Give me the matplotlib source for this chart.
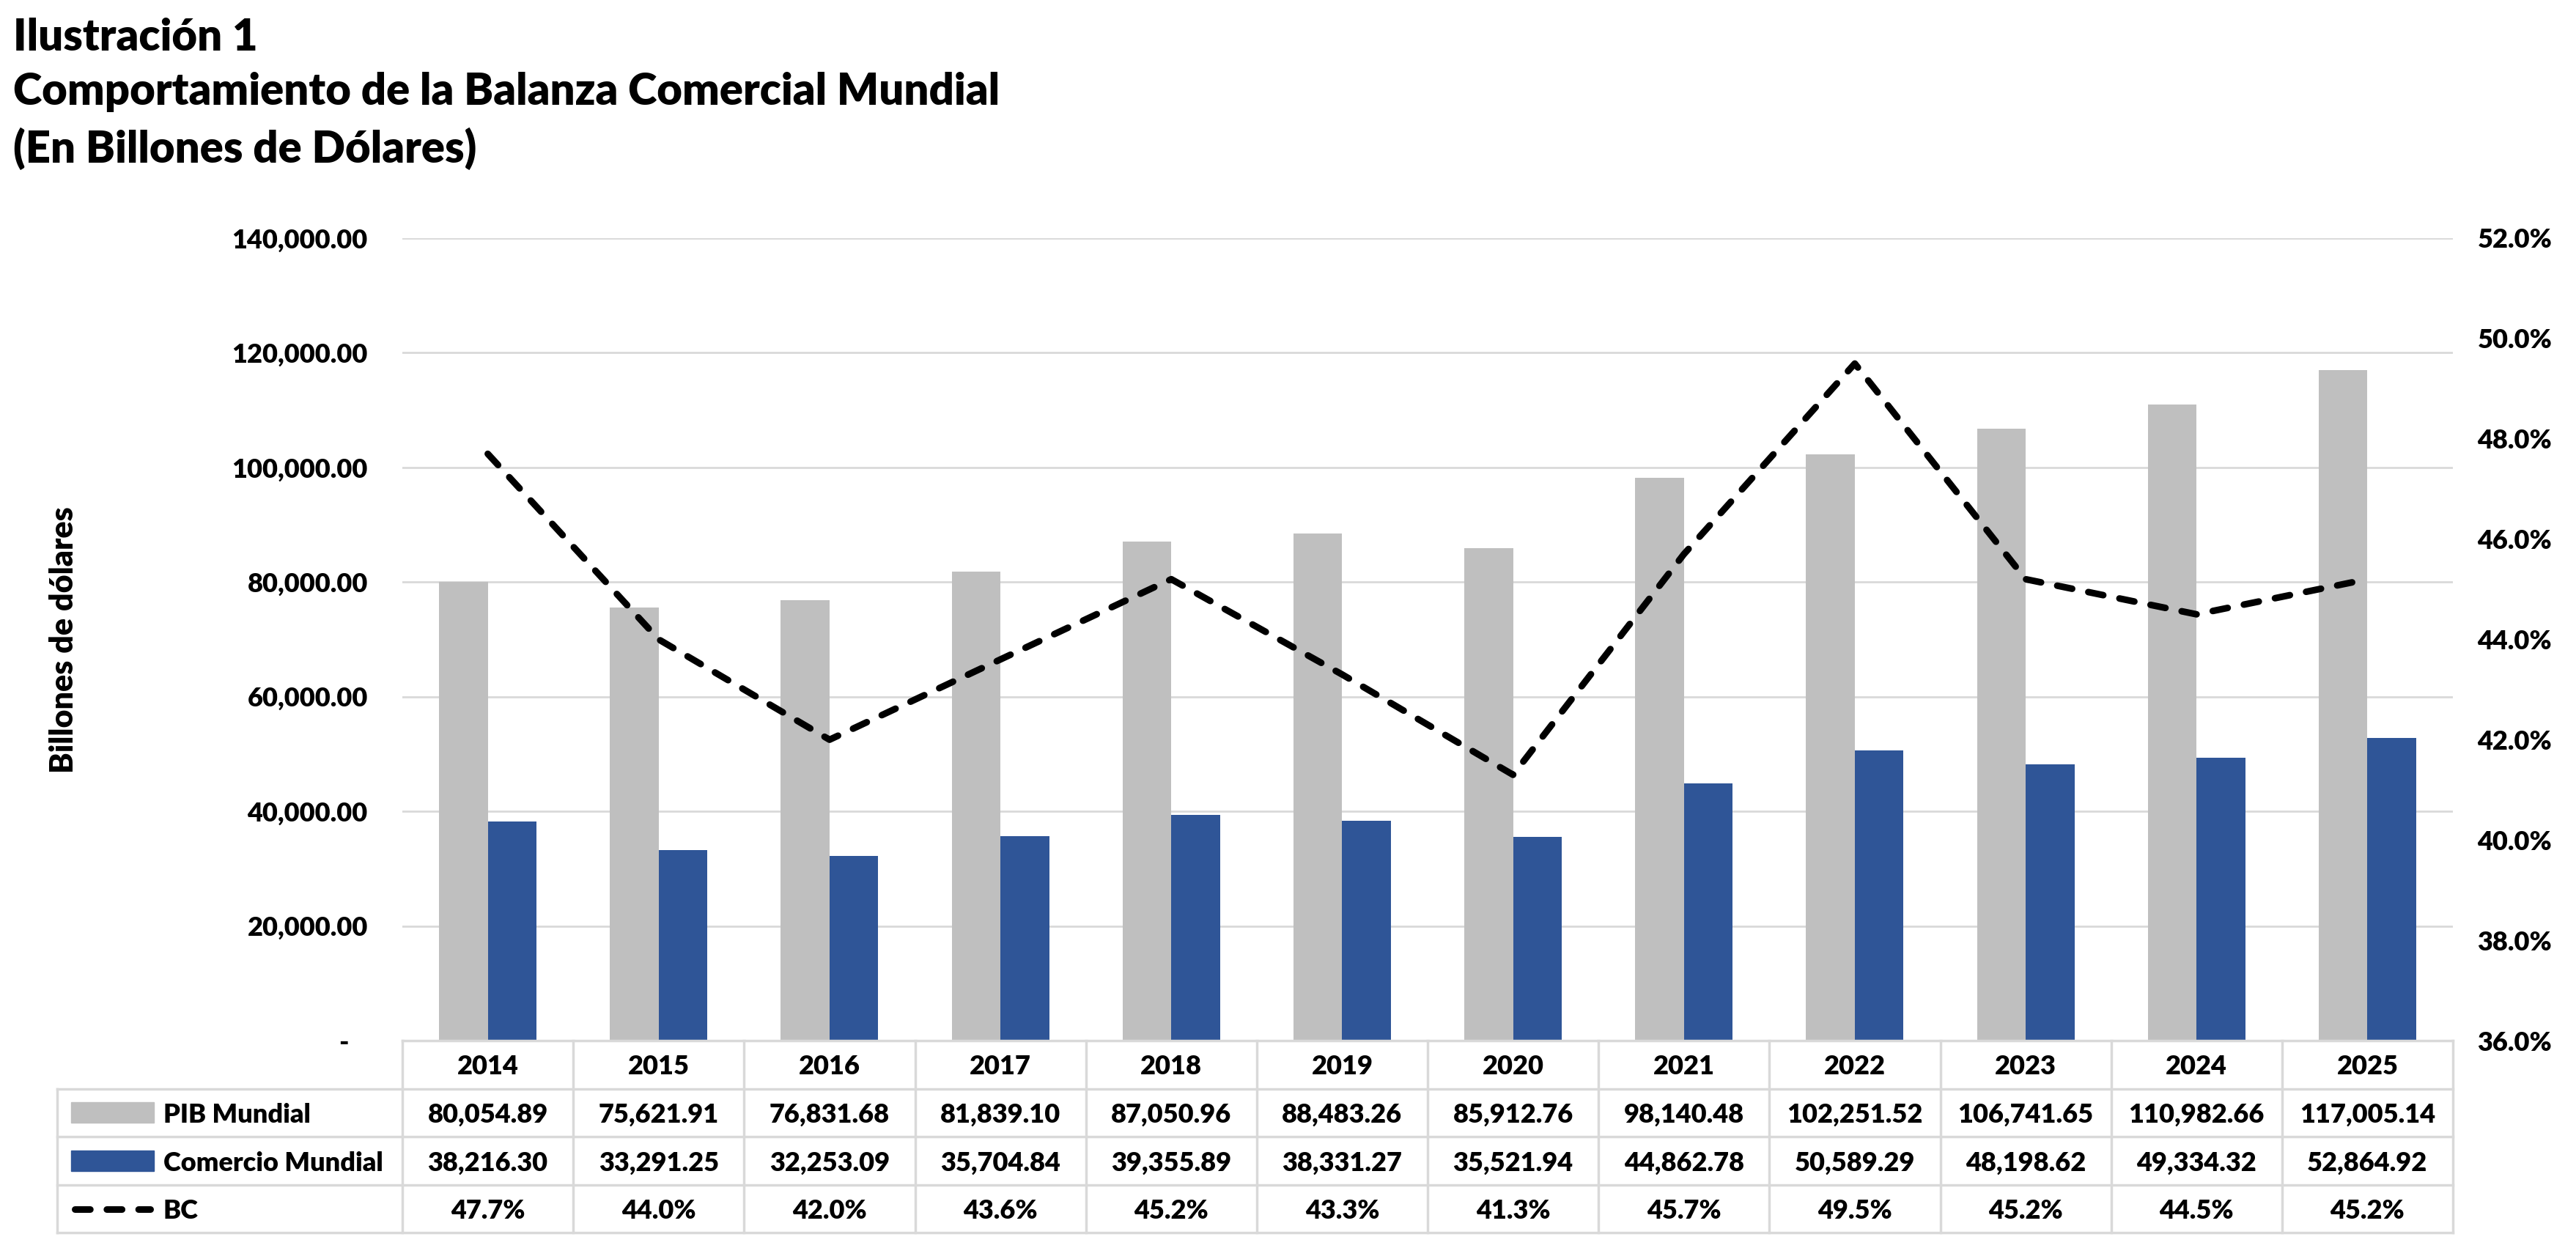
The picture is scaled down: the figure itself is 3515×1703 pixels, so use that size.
import numpy as np
import matplotlib
matplotlib.use("Agg")
import matplotlib.pyplot as plt
import matplotlib.transforms as mtransforms
from matplotlib import font_manager
from matplotlib.patches import Rectangle
from matplotlib.lines import Line2D
from matplotlib.ticker import FuncFormatter, MultipleLocator

# values
years = ['2014', '2015', '2016', '2017', '2018', '2019',
         '2020', '2021', '2022', '2023', '2024', '2025']
pib_mundial = [80054.89, 75621.91, 76831.68, 81839.10, 87050.96, 88483.26,
               85912.76, 98140.48, 102251.52, 106741.65, 110982.66, 117005.14]
comercio_mundial = [38216.30, 33291.25, 32253.09, 35704.84, 39355.89, 38331.27,
                    35521.94, 44862.78, 50589.29, 48198.62, 49334.32, 52864.92]
bc = [47.7, 44.0, 42.0, 43.6, 45.2, 43.3, 41.3, 45.7, 49.5, 45.2, 44.5, 45.2]

series_names = ['PIB Mundial', 'Comercio Mundial', 'BC']
title_lines = ['Ilustración 1',
               'Comportamiento de la Balanza Comercial Mundial',
               '(En Billones de Dólares)']

GRAY = '#bfbfbf'
BLUE = '#2f5597'
GRID = '#d9d9d9'


def pick_font(names):
    # first installed family from the list
    for name in names:
        try:
            font_manager.findfont(font_manager.FontProperties(family=name),
                                  fallback_to_default=False)
            return name
        except ValueError:
            continue
    return 'DejaVu Sans'


FONT = pick_font(['Lato', 'Open Sans', 'Liberation Sans'])
plt.rcParams['font.family'] = [FONT, 'DejaVu Sans']
plt.rcParams['font.weight'] = 'heavy'

W, H = 3515, 1703
fig = plt.figure(figsize=(W / 100, H / 100), dpi=100)

# plot box in pixels (from the reference)
left, right, top, bottom = 549, 3347, 325, 1420
ax = fig.add_axes([left / W, 1 - bottom / H, (right - left) / W, (bottom - top) / H])
ax2 = ax.twinx()

x = np.arange(len(years))
bw = 0.285
ax.bar(x - bw / 2, pib_mundial, bw, color=GRAY, zorder=2)
ax.bar(x + bw / 2, comercio_mundial, bw, color=BLUE, zorder=2)

LW = 6.5
DASH = (2.3, 2.5)
ax2.plot(x, bc, color='black', lw=LW, dashes=DASH,
         dash_capstyle='round', dash_joinstyle='round')

ax.set_xlim(-0.5, len(years) - 0.5)
ax.set_ylim(0, 140000)
ax2.set_ylim(36, 52)
ax.set_xticks([])

ax.yaxis.set_major_locator(MultipleLocator(20000))
ax.yaxis.set_major_formatter(FuncFormatter(lambda v, p: '-   ' if v == 0 else f'{v:,.2f}'))
ax.tick_params(axis='y', length=0, pad=34, labelsize=26)
ax2.yaxis.set_major_locator(MultipleLocator(2))
ax2.yaxis.set_major_formatter(FuncFormatter(lambda v, p: f'{v:.1f}%'))
ax2.tick_params(axis='y', length=0, pad=24, labelsize=26)

ax.yaxis.grid(True, color=GRID, lw=2)
ax.set_axisbelow(True)
for name, sp in ax.spines.items():
    sp.set_visible(name == 'bottom')
ax.spines['bottom'].set_color(GRID)
ax.spines['bottom'].set_linewidth(2.5)
for sp in ax2.spines.values():
    sp.set_visible(False)

# titles
title_base = [69, 143, 222]
for txt, yb in zip(title_lines, title_base):
    fig.text(18 / W, 1 - yb / H, txt, fontsize=43, va='baseline', ha='left')

fig.text(87 / W, 1 - 873 / H, 'Billones de dólares', rotation=90,
         ha='center', va='center', fontsize=31)

# data table under the axes
row_h = 65.6 / (bottom - top)
tab_left = (78 - left) / (right - left)
n = len(years)


def hline(x0, x1, y):
    ax.add_line(Line2D([x0, x1], [y, y], transform=ax.transAxes,
                       color=GRID, lw=2.5, clip_on=False))


def vline(xv, y0, y1):
    ax.add_line(Line2D([xv, xv], [y0, y1], transform=ax.transAxes,
                       color=GRID, lw=2.5, clip_on=False))


for k in range(1, 5):
    hline(tab_left, 1, -k * row_h)
for i in range(n + 1):
    vline(i / n, 0, -4 * row_h)
vline(tab_left, -row_h, -4 * row_h)

trans = mtransforms.blended_transform_factory(ax.transData, ax.transAxes)
rows = [years,
        [f'{v:,.2f}' for v in pib_mundial],
        [f'{v:,.2f}' for v in comercio_mundial],
        [f'{v:.1f}%' for v in bc]]
for r, vals in enumerate(rows):
    yc = -(r + 0.5) * row_h
    for xi, s in zip(x, vals):
        ax.text(xi, yc, s, transform=trans, ha='center', va='center_baseline',
                fontsize=26, clip_on=False)

key_x0 = (97 - left) / (right - left)
key_x1 = (210 - left) / (right - left)
key_h = 28 / (bottom - top)
text_x = (223 - left) / (right - left)
for r, name in enumerate(series_names, start=1):
    yc = -(r + 0.5) * row_h
    if name == 'BC':
        cap = (LW / 72 * 100 / 2) / (right - left)
        ax.add_line(Line2D([key_x0 + cap, key_x1 - cap], [yc, yc], transform=ax.transAxes,
                           color='black', lw=LW, dashes=DASH, dash_capstyle='round',
                           clip_on=False))
    else:
        ax.add_patch(Rectangle((key_x0, yc - key_h / 2), key_x1 - key_x0, key_h,
                               transform=ax.transAxes, color=GRAY if r == 1 else BLUE,
                               clip_on=False))
    ax.text(text_x, yc, name, transform=ax.transAxes, ha='left', va='center_baseline',
            fontsize=26, clip_on=False)

fig.savefig('out.png', dpi=100)
